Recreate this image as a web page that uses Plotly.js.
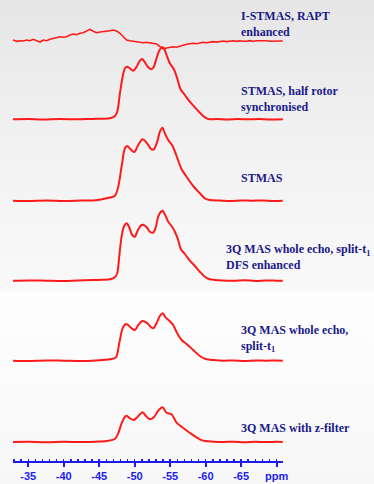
<!DOCTYPE html>
<html><head><meta charset="utf-8">
<script src="https://cdn.plot.ly/plotly-3.0.1.min.js"></script>
<style>
html,body{margin:0;padding:0;}
body{width:374px;height:484px;background:linear-gradient(to bottom,#e6e6e6 0px,#f2f2f2 150px,#f9f9f9 292px,#fefefe 294px,#f7f7f7 484px);}
#chart{width:374px;height:484px;}
</style>
</head><body><div id="chart"></div>
<script>
// ---- data (chemical shift in ppm, intensity in arbitrary units above baseline) ----
const labels = [
  'I-STMAS, RAPT<br>enhanced',
  'STMAS, half rotor<br>synchronised',
  'STMAS',
  '3Q MAS whole echo, split-t<sub>1</sub><br>DFS enhanced',
  '3Q MAS whole echo,<br>split-t<sub>1</sub>',
  '3Q MAS with z-filter'
];
const tickValues = [-35,-40,-45,-50,-55,-60,-65,-70];
const tickLabels = ['-35','-40','-45','-50','-55','-60','-65','ppm'];

const istmasX = [-32.85,-33.37,-33.83,-34.30,-34.77,-35.24,-35.70,-36.18,-36.65,-37.11,-37.59,-38.06,-38.52,-39.00,-39.46,-39.93,-40.41,-40.87,-41.34,-41.82,-42.28,-42.75,-43.23,-43.69,-44.15,-44.63,-45.10,-45.56,-46.04,-46.51,-46.97,-47.45,-47.92,-48.38,-48.86,-49.32,-49.79,-50.27,-50.73,-51.20,-51.68,-52.14,-52.61,-53.08,-53.55,-54.01,-54.49,-54.96,-55.42,-55.90,-56.37,-56.83,-57.31,-57.77,-58.24,-58.72,-59.18,-59.65,-60.13,-60.59,-61.06,-61.54,-62.00,-62.46,-62.94,-63.41,-63.87,-64.35,-64.82,-65.28,-65.76,-66.22,-66.69,-67.17,-67.63,-68.10,-68.58,-69.04,-69.51,-69.99,-70.46,-70.87];
const istmasY = [1,-0.3,0.3,0,1,0.3,1.7,0.3,-1,1,0.3,1.7,2.7,3,4.3,3.7,4.3,6,7,6.3,7.7,8.3,9.7,11.7,9.7,8.3,9,9.3,9.7,10.3,11,10,7.7,4.3,1,0.3,-0.3,-1,-1,-1.7,-1.3,-1.7,-2.3,-3,-5.7,-7.7,-7,-6.3,-5.7,-6.3,-5,-4.3,-3.3,-3,-2.3,-2.8,-1.7,-1.3,-1.8,-1,-0.6,-1.1,-0.3,0,-0.6,0.2,0.3,-0.4,0.3,-0.2,-0.3,0.4,-0.3,0.2,0.3,-0.3,0.3,-0.2,0,0.3,-0.2,0];

const halfRotorX = [-32.85,-35,-37,-39.5,-42,-44,-45.5,-46.51,-47.21,-47.54,-47.92,-48.30,-48.63,-48.94,-49.32,-49.79,-50.27,-50.73,-51.06,-51.44,-51.90,-52.38,-52.70,-53.08,-53.45,-53.83,-54.11,-54.49,-54.96,-55.52,-55.99,-56.46,-57.07,-57.77,-58.48,-59.18,-59.89,-60.59,-61.5,-63,-64.5,-66,-67.5,-69,-70.87];
const halfRotorY = [0,0.3,-0.2,0.3,0,0.4,0.6,1,3.3,7.6,26,42.6,51,52.6,51,48.6,52.6,58.6,60.3,57,52,50,52.6,61,68.6,72,71,64.3,56,50,41,30,24.3,17.6,12,6.6,2,0,0.4,-0.2,0.3,0,0.3,-0.2,0];

const stmasX = [-32.85,-35,-37.5,-40,-42.5,-44.5,-46.04,-47.21,-47.68,-48.15,-48.63,-48.94,-49.42,-49.93,-50.49,-51.11,-51.68,-52.38,-52.70,-53.17,-53.55,-53.90,-54.25,-54.72,-55.34,-55.90,-56.61,-57.31,-58.24,-59.18,-59.89,-60.59,-62,-63.5,-65,-66.5,-68,-69.5,-70.87];
const stmasY = [0,-0.3,0.2,-0.2,0.2,0.5,2.4,5,14,34,52.4,54.7,51.4,48.7,55.7,61.4,58,51.4,51.4,59,69,73,67.4,60.7,54.7,44.7,31.4,24,14.7,7.4,2.4,0.7,0.2,-0.3,0.3,0,0.3,-0.2,0];

const dfsX = [-32.85,-35,-37.5,-40,-42,-44,-45.5,-46.51,-47.21,-47.54,-47.82,-48.15,-48.48,-48.86,-49.23,-49.65,-50.03,-50.35,-50.83,-51.20,-51.68,-52.14,-52.61,-52.99,-53.31,-53.69,-53.93,-54.30,-54.72,-55.20,-55.66,-56.13,-56.51,-57.07,-57.77,-58.48,-59.18,-59.89,-60.59,-61.29,-62.5,-64,-65.5,-67,-68.5,-70,-70.87];
const dfsY = [0,0.3,0,-0.3,0.3,0.6,1,1.4,3.4,7.4,24,44,54,57.4,53.4,45.7,44,49,55,56,53.4,49,48,54,64,69,70,65.7,59,54.7,49,40.7,31.4,26.7,20,14.7,9,4,1.4,0.8,0.3,0,0.4,-0.2,0.2,0,0];

const splitX = [-32.85,-35,-37.5,-40,-42.5,-44.5,-46.51,-47.35,-47.82,-48.30,-48.76,-49.08,-49.56,-50.03,-50.49,-51.11,-51.68,-52.24,-52.61,-53.08,-53.55,-53.93,-54.35,-54.86,-55.42,-55.99,-56.61,-57.31,-58.24,-59.18,-60.13,-61.06,-62.5,-64,-65.5,-67,-68.5,-70,-70.87];
const splitY = [0,-0.3,0.3,0,-0.3,0.3,1.4,3.4,17.4,32.4,36.7,35.7,32.4,30.7,35.7,39.7,38,34,32.4,37.4,44.7,47.4,43.4,40,35.7,27.4,20.7,16.7,10.7,4.7,1.4,0.7,0,0.3,-0.2,0.3,0,0.3,0];

const zfilterX = [-32.85,-35,-37.5,-40,-42.5,-44.5,-46.04,-47.21,-47.68,-48.15,-48.63,-48.86,-49.32,-49.89,-50.35,-51.11,-51.58,-52.14,-52.70,-53.31,-53.93,-54.49,-55.20,-55.90,-56.61,-58.01,-59.18,-59.89,-61.06,-62.5,-64,-65.5,-67,-68.5,-70,-70.87];
const zfilterY = [0,0.2,-0.2,0.2,0,0.3,1,3,8.7,18.7,25.3,26.3,23.7,22,24.7,29.7,26,22.7,24.7,31.3,34.7,29.3,27.7,19.3,15.3,8,2.7,1,0.3,0,0.3,-0.2,0.2,0,0.2,0];

// ---- layout / styling ----
const W = 374, H = 484;
const M = {l:13, r:91, t:0, b:23};
const plotH = H - M.t - M.b;   // 461
const plotW = W - M.l - M.r;   // 270
const baselinePx = [41, 119.3, 200.7, 280.7, 360.7, 442];
const labelPx = [[239,24.3],[239,98.9],[239,178.3],[224,257.3],[239,338.7],[239,427.7]];
const red = '#ff1a1a';
const blue = '#1c1cf0';
const navy = '#1a1a8a';

const series = [[istmasX,istmasY],[halfRotorX,halfRotorY],[stmasX,stmasY],[dfsX,dfsY],[splitX,splitY],[zfilterX,zfilterY]];
const traces = series.map((s,i)=>({
  x: s[0], y: s[1], type:'scatter', mode:'lines',
  yaxis: i===0 ? 'y' : 'y'+(i+1),
  line: {color: red, width: i===0 ? 1.6 : 2, shape: i===0 ? 'linear' : 'spline', smoothing: 0.9},
  hoverinfo:'skip', showlegend:false
}));

const layout = {
  width: W, height: H, margin: M,
  paper_bgcolor:'rgba(0,0,0,0)', plot_bgcolor:'rgba(0,0,0,0)',
  showlegend:false,
  xaxis: {
    range:[-32.85,-70.9], showgrid:false, zeroline:false,
    showline:true, linecolor:blue, linewidth:2,
    tickmode:'array', tickvals:tickValues, ticktext:tickLabels,
    ticks:'outside', ticklen:4, tickwidth:2, tickcolor:blue,
    tickfont:{family:'Arial, Liberation Sans, sans-serif', size:11, color:blue, weight:'bold'},
    minor:{tickmode:'linear', tick0:0, dtick:1, ticks:'inside', ticklen:2, tickwidth:1.5, tickcolor:blue, showgrid:false},
    fixedrange:true
  },
  annotations: labels.map((t,i)=>({
    text:'<b>'+t+'</b>', xref:'paper', yref:'paper',
    x:(labelPx[i][0]-M.l)/plotW, y:(plotH - labelPx[i][1])/plotH,
    xanchor:'left', yanchor:'middle', align:'left', showarrow:false,
    font:{family:'Times New Roman, Liberation Serif, serif', size:12, color:navy}
  }))
};
baselinePx.forEach((b,i)=>{
  const key = i===0 ? 'yaxis' : 'yaxis'+(i+1);
  layout[key] = {visible:false, domain:[0,1], range:[b-plotH, b], fixedrange:true};
  if(i>0) layout[key].overlaying = 'y';
});

Plotly.newPlot('chart', traces, layout, {staticPlot:true, displayModeBar:false});
</script>
</body></html>
